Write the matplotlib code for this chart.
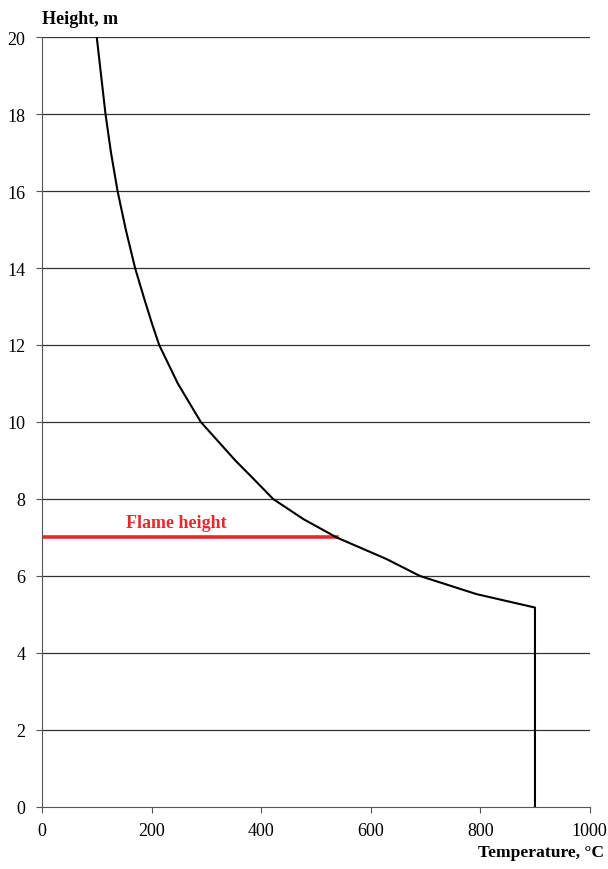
import numpy as np
import matplotlib
matplotlib.use("Agg")
import matplotlib.pyplot as plt

plt.rcParams['font.family'] = ['Liberation Serif', 'DejaVu Serif']

# Temperature profile along the height
height = [0.0, 5.18, 5.53, 6.0, 6.31, 6.44, 7.0, 7.48, 8.0, 8.57, 9.0, 10.0,
          11.0, 12.0, 12.55, 13.19, 14.0, 15.0, 16.0, 17.0, 18.0, 19.0, 20.0]
temperature = [900, 900, 793, 690, 647, 629, 538, 477, 422, 383, 353, 290,
               248, 214, 201, 187, 170, 153, 138, 126, 116, 108, 100]

flame_height = 7.0
flame_temp = 538

fig = plt.figure(figsize=(6.08, 8.7), dpi=100)
ax = fig.add_axes([0.069, 0.0713, 0.901, 0.885])

for y in range(2, 21, 2):
    ax.axhline(y, color='#333333', lw=0.9, zorder=1)

ax.plot(temperature, height, color='black', lw=1.5, zorder=3)
ax.plot([0, flame_temp], [flame_height, flame_height], color='#e8282e', lw=2.6, zorder=2)
ax.text(246, 7.18, 'Flame height', color='#e8282e', fontsize=13, fontweight='bold',
        ha='center', va='bottom')

ax.set_xlim(0, 1000)
ax.set_ylim(0, 20)
ax.set_xticks(range(0, 1001, 200))
ax.set_yticks(range(0, 21, 2))
ax.tick_params(labelsize=13, length=4, color='#555555', pad=7)
ax.tick_params(axis='y', pad=8)
for s in ['top', 'right']:
    ax.spines[s].set_visible(False)
for s in ['left', 'bottom']:
    ax.spines[s].set_color('#555555')

fig.text(0.069, 0.978, 'Height, m', fontsize=13, fontweight='bold', ha='left', va='center')
fig.text(0.993, 0.02, 'Temperature, °C', fontsize=12.6, fontweight='bold', ha='right', va='center')

fig.savefig('out.png', dpi=100)
